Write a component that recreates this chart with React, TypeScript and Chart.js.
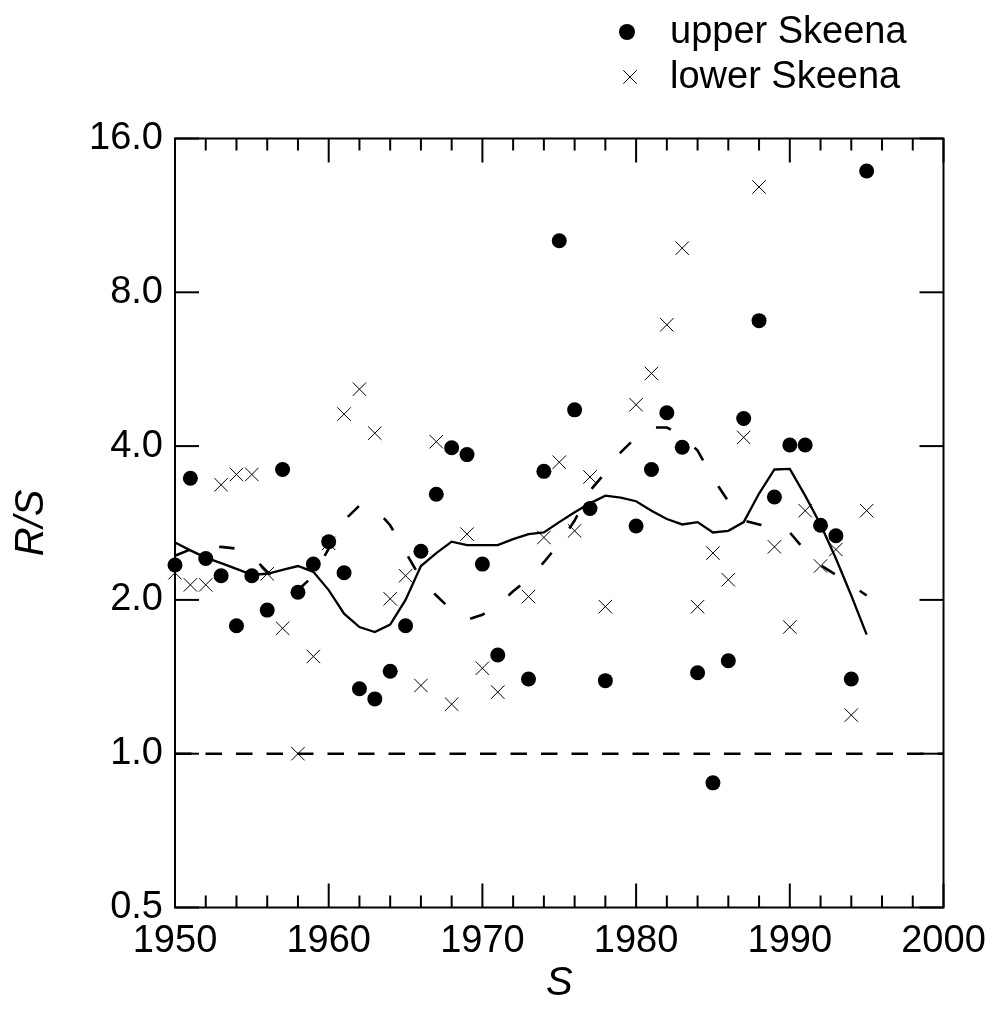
import React, { useEffect, useRef } from "react";
import { Chart, registerables } from "chart.js";

Chart.register(...registerables);

// ---- data ----
const years = [
  1950, 1951, 1952, 1953, 1954, 1955, 1956, 1957, 1958, 1959,
  1960, 1961, 1962, 1963, 1964, 1965, 1966, 1967, 1968, 1969,
  1970, 1971, 1972, 1973, 1974, 1975, 1976, 1977, 1978, 1979,
  1980, 1981, 1982, 1983, 1984, 1985, 1986, 1987, 1988, 1989,
  1990, 1991, 1992, 1993, 1994, 1995,
];

const upperSkeena = [
  2.34, 3.46, 2.41, 2.23, 1.78, 2.23, 1.91, 3.6, 2.07, 2.35,
  2.6, 2.26, 1.34, 1.28, 1.45, 1.78, 2.49, 3.22, 3.97, 3.85,
  2.35, 1.56, null, 1.4, 3.57, 10.09, 4.71, 3.02, 1.39, null,
  2.79, 3.6, 4.65, 3.98, 1.44, 0.877, 1.52, 4.53, 7.04, 3.18,
  4.02, 4.02, 2.8, 2.67, 1.4, 13.82,
];

const lowerSkeena = [
  2.26, 2.14, 2.14, 3.36, 3.52, 3.52, 2.25, 1.76, 1.0, 1.55,
  2.58, 4.62, 5.17, 4.24, 2.01, 2.23, 1.36, 4.08, 1.25, 2.69,
  1.47, 1.32, null, 2.03, 2.65, 3.72, 2.73, 3.48, 1.94, null,
  4.82, 5.55, 6.91, 9.76, 1.94, 2.47, 2.19, 4.16, 12.86, 2.54,
  1.77, 2.99, 2.33, 2.51, 1.19, 2.99,
];

const upperSmooth = [
  2.59, 2.5, 2.42, 2.36, 2.3, 2.24, 2.25, 2.29, 2.33, 2.27,
  2.09, 1.88, 1.77, 1.73, 1.79, 2.0, 2.33, 2.47, 2.6, 2.56,
  2.56, 2.56, 2.63, 2.69, 2.71, 2.84, 2.97, 3.09, 3.2, 3.17,
  3.12, 2.99, 2.88, 2.81, 2.84, 2.71, 2.73, 2.84, 3.23, 3.6,
  3.61, 3.2, 2.81, 2.41, 2.04, 1.71,
];

const lowerSmooth = [
  2.44, 2.51, 2.53, 2.54, 2.52, 2.44, 2.27, 2.16, 2.09, 2.23,
  2.52, 2.86, 3.06, 3.03, 2.8, 2.48, 2.2, 2.04, 1.91, 1.83,
  1.87, 1.95, 2.08, 2.2, 2.37, 2.58, 2.86, 3.27, 3.55, 3.89,
  4.16, 4.35, 4.35, 4.19, 3.92, 3.46, 3.12, 2.86, 2.81, 2.76,
  2.71, 2.5, 2.34, 2.24, 2.14, 2.04,
];

const xRange = [1950, 2000];
const replacementLevel = [1, 1];
const yTicks = [0.5, 1, 2, 4, 8, 16];
const seriesLabels = ["upper Skeena", "lower Skeena"];
const xTitle = "S";
const yTitle = "R/S";

const FONT = "'Liberation Sans', Arial, Helvetica, sans-serif";

const toPoints = (vals: (number | null)[]) =>
  years
    .map((x, i) => ({ x, y: vals[i] }))
    .filter((p) => p.y !== null) as { x: number; y: number }[];

const framePlugin = {
  id: "frameTicks",
  afterDatasetsDraw(chart: any) {
    const { ctx, chartArea: a, scales } = chart;
    const xs = scales.x;
    const ys = scales.y;
    ctx.save();
    ctx.strokeStyle = "#000";
    ctx.lineWidth = 2;
    ctx.lineCap = "butt";
    ctx.strokeRect(a.left, a.top, a.right - a.left, a.bottom - a.top);
    const seg = (x1: number, y1: number, x2: number, y2: number) => {
      ctx.beginPath();
      ctx.moveTo(x1, y1);
      ctx.lineTo(x2, y2);
      ctx.stroke();
    };
    xs.ticks.forEach((t: any) => {
      const px = xs.getPixelForValue(t.value);
      const len = Math.round(t.value) % 10 === 0 ? 24 : 12;
      seg(px, a.bottom, px, a.bottom - len);
      seg(px, a.top, px, a.top + len);
    });
    ys.ticks.forEach((t: any) => {
      const py = ys.getPixelForValue(t.value);
      seg(a.left, py, a.left + 24, py);
      seg(a.right, py, a.right - 24, py);
    });
    ctx.restore();
  },
};

const legendPlugin = {
  id: "cornerLegend",
  afterDraw(chart: any) {
    const { ctx } = chart;
    ctx.save();
    ctx.fillStyle = "#000";
    ctx.strokeStyle = "#000";
    ctx.font = `38px ${FONT}`;
    ctx.textBaseline = "middle";
    ctx.textAlign = "left";
    const rows = [32, 77];
    const markX = 627;
    const textX = 670;
    chart.data.datasets.slice(0, 2).forEach((ds: any, i: number) => {
      const y = rows[i];
      if (ds.pointStyle === "circle") {
        ctx.beginPath();
        ctx.arc(markX, y, 8, 0, Math.PI * 2);
        ctx.fill();
      } else {
        const r = 9.5 * Math.SQRT1_2;
        ctx.lineWidth = 1;
        ctx.beginPath();
        ctx.moveTo(markX + 3 - r, y - r);
        ctx.lineTo(markX + 3 + r, y + r);
        ctx.moveTo(markX + 3 + r, y - r);
        ctx.lineTo(markX + 3 - r, y + r);
        ctx.stroke();
      }
      ctx.fillText(ds.label, textX, y + 1);
    });
    ctx.restore();
  },
};

export default function App() {
  const canvasRef = useRef<HTMLCanvasElement | null>(null);

  useEffect(() => {
    const canvas = canvasRef.current;
    if (!canvas) return;
    const chart = new Chart(canvas, {
      type: "scatter",
      data: {
        datasets: [
          {
            label: seriesLabels[0],
            data: toPoints(upperSkeena),
            pointStyle: "circle",
            pointRadius: 7.5,
            pointBorderWidth: 0,
            backgroundColor: "#000",
            borderColor: "#000",
            showLine: false,
            clip: false,
          },
          {
            label: seriesLabels[1],
            data: toPoints(lowerSkeena),
            pointStyle: "crossRot",
            pointRadius: 9.5,
            pointBorderWidth: 1,
            backgroundColor: "#000",
            borderColor: "#000",
            showLine: false,
            clip: false,
          },
          {
            label: "upper smooth",
            data: toPoints(upperSmooth),
            showLine: true,
            pointRadius: 0,
            borderColor: "#000",
            borderWidth: 2.3,
            tension: 0,
            fill: false,
          },
          {
            label: "lower smooth",
            data: toPoints(lowerSmooth),
            showLine: true,
            pointRadius: 0,
            borderColor: "#000",
            borderWidth: 2.6,
            borderDash: [15.5, 30],
            tension: 0,
            fill: false,
          },
          {
            label: "replacement",
            data: xRange.map((x, i) => ({ x, y: replacementLevel[i] })),
            showLine: true,
            pointRadius: 0,
            borderColor: "#000",
            borderWidth: 2.5,
            borderDash: [16.5, 14],
            fill: false,
          },
        ],
      },
      options: {
        responsive: false,
        devicePixelRatio: 1,
        animation: false,
        events: [],
        layout: { padding: { top: 138.5, right: 48.5, left: 0, bottom: 0 } },
        plugins: {
          legend: { display: false },
          tooltip: { enabled: false },
        },
        scales: {
          x: {
            type: "linear",
            min: xRange[0],
            max: xRange[1],
            grid: { display: false, drawTicks: false },
            border: { display: false },
            ticks: {
              stepSize: 2,
              autoSkip: false,
              maxRotation: 0,
              minRotation: 0,
              padding: 11,
              color: "#000",
              font: { family: FONT, size: 38 },
              callback: (v: any) => (Math.round(Number(v)) % 10 === 0 ? String(v) : ""),
            },
            title: {
              display: true,
              text: xTitle,
              color: "#000",
              font: { family: FONT, size: 40, style: "italic" },
              padding: { top: 0, bottom: 3 },
            },
            afterFit: (s: any) => {
              s.height = 103.5;
              s.paddingLeft = 0;
              s.paddingRight = 0;
            },
          },
          y: {
            type: "logarithmic",
            min: yTicks[0],
            max: yTicks[yTicks.length - 1],
            grid: { display: false, drawTicks: false },
            border: { display: false },
            afterBuildTicks: (s: any) => {
              s.ticks = yTicks.map((v) => ({ value: v }));
            },
            ticks: {
              autoSkip: false,
              padding: 12,
              color: "#000",
              font: { family: FONT, size: 38 },
              callback: (v: any) => Number(v).toFixed(1),
            },
            title: {
              display: true,
              text: yTitle,
              color: "#000",
              font: { family: FONT, size: 40, style: "italic" },
              padding: { top: 7.5, bottom: 0 },
            },
            afterFit: (s: any) => {
              s.width = 175;
            },
          },
        },
      },
      plugins: [framePlugin, legendPlugin],
    } as any);
    return () => chart.destroy();
  }, []);

  return (
    <div style={{ position: "absolute", left: 0, top: 0, width: 992, height: 1011, background: "#fff" }}>
      <canvas ref={canvasRef} width={992} height={1011} style={{ display: "block" }} />
    </div>
  );
}
